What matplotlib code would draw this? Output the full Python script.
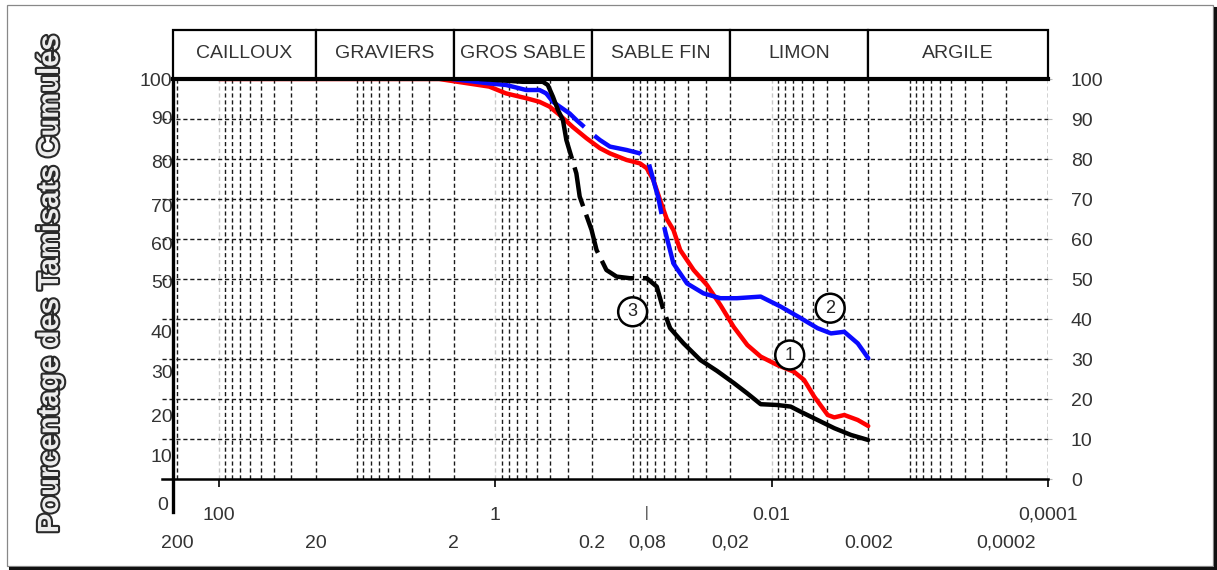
import numpy as np
import matplotlib.pyplot as plt
import matplotlib.patheffects as pe
import matplotlib.transforms as mtransforms
from matplotlib.patches import Rectangle
from matplotlib.lines import Line2D

plt.rcParams['font.family'] = ['Liberation Sans', 'DejaVu Sans']

# grain diameter (mm) and cumulative passing (%) for the three samples
d1 = [100, 2.55, 1.106, 0.836, 0.598, 0.479, 0.405, 0.342, 0.275, 0.219,
      0.175, 0.148, 0.112, 0.0897, 0.0802, 0.0718, 0.0642, 0.0574, 0.0514, 0.0459,
      0.0367, 0.0294, 0.0235, 0.0188, 0.0150, 0.0120, 0.0091, 0.00689, 0.00582, 0.00492,
      0.00393, 0.00352, 0.00298, 0.00238, 0.002]
p1 = [100, 100, 98.1, 96.4, 95.2, 94.3, 93.1, 91, 88, 85.2,
      82.7, 81.4, 79.75, 78.9, 77.7, 74.75, 69.75, 65, 62.25, 57.25,
      52.25, 48.5, 43.5, 38, 33.5, 30.6, 28.5, 26.8, 24.75, 20.6,
      16, 15.4, 16, 14.75, 13.25]

d2 = [2.06, 1.106, 0.836, 0.598, 0.479, 0.428, 0.383, 0.342, 0.290, 0.259,
      0.201, 0.175, 0.148, 0.112, 0.0897, 0.078, 0.0718, 0.066, 0.0624, 0.059,
      0.0514, 0.041, 0.0311, 0.0235, 0.0178, 0.0120, 0.0086, 0.00615, 0.00465, 0.00372,
      0.00298, 0.00238, 0.002]
p2 = [100, 98.9, 98.5, 97.25, 97.25, 96.4, 94.3, 93.1, 91.4, 89.75,
      86.4, 84.75, 83.1, 82.25, 81.4, 79.3, 74.75, 70.2, 66, 62,
      53.9, 48.9, 46.4, 45.2, 45.2, 45.6, 43.1, 40.2, 37.7, 36.4,
      36.8, 33.9, 30.2]

d3 = [1.3, 0.988, 0.633, 0.453, 0.417, 0.383, 0.352, 0.324, 0.306, 0.259,
      0.245, 0.201, 0.185, 0.157, 0.1325, 0.106, 0.0802, 0.0678, 0.0607, 0.0543,
      0.0434, 0.0328, 0.0248, 0.0188, 0.0150, 0.0120, 0.0091, 0.00728, 0.00615, 0.00465,
      0.00352, 0.00266, 0.002]
p3 = [100, 99.75, 99.3, 99.3, 98.5, 95.6, 92.25, 89.75, 84.75, 76.4,
      70.6, 62.25, 57.25, 52.25, 50.6, 50.2, 50.2, 48.1, 42.25, 37.7,
      33.9, 29.75, 27, 24, 21.4, 18.7, 18.5, 18.1, 16.8, 14.75,
      12.7, 11, 9.75]

# soil classes and their limits (mm)
classes = ['CAILLOUX', 'GRAVIERS', 'GROS SABLE', 'SABLE FIN', 'LIMON', 'ARGILE']
limits = [215, 20, 2, 0.2, 0.02, 0.002, 0.0001]

top_ticks = [100, 1, 0.01, 0.0001]
top_tick_labels = ['100', '1', '0.01', '0,0001']
low_ticks = [200, 20, 2, 0.2, 0.08, 0.02, 0.002, 0.0002]
low_tick_labels = ['200', '20', '2', '0.2', '0,08', '0,02', '0.002', '0,0002']

pct_ticks = list(range(0, 101, 10))
left_label_y = [-6.5, 5.5, 15.5, 26.5, 36.5, 48.75, 58.25, 67.75, 79, 89.75, 99.25]

W, H = 1217, 570
fig = plt.figure(figsize=(W / 100, H / 100), dpi=100)
ax = fig.add_axes([173 / W, 1 - 479 / H, 875 / W, 400 / H])
ax.set_xscale('log')
ax.set_xlim(215, 0.0001)
ax.set_ylim(0, 100)
for s in ax.spines.values():
    s.set_visible(False)
ax.xaxis.set_minor_locator(plt.NullLocator())
ax.yaxis.set_minor_locator(plt.NullLocator())

# grid
grid_dash = (0, (3, 2))
for k in range(-4, 3):
    for n in range(1, 10):
        v = n * 10.0 ** k
        if v < 0.0001 * 0.999 or v > 215:
            continue
        light = v in (100, 1, 0.01)
        ax.vlines(v, 0, 100, colors='#c8c8c8' if light else '#1a1a1a',
                  linestyles=grid_dash, lw=1.0, zorder=1)
for y in pct_ticks[1:-1]:
    ax.axhline(y, xmin=-0.0125, xmax=1.0, color='#1a1a1a', ls=grid_dash,
               lw=1.0, clip_on=False, zorder=1)

# axes lines
ax.axhline(0, xmin=-0.0125, xmax=1.0, color='black', lw=1.8, clip_on=False, zorder=4)
ax.add_line(Line2D([0, 0], [-0.083, 1.0], transform=ax.transAxes, color='black',
                   lw=2.4, clip_on=False, zorder=4))
ax.axhline(100, color='black', lw=3, clip_on=False, zorder=6)


def draw_curve(d, p, color, dashed=None, dashes=(10, 2)):
    d = np.asarray(d)
    p = np.asarray(p)
    kw = dict(color=color, lw=3.2, solid_capstyle='round', solid_joinstyle='round', zorder=3)
    if dashed is None:
        ax.plot(d, p, **kw)
        return
    lo, hi = dashed
    left = d >= hi
    mid = (d <= hi) & (d >= lo)
    right = d <= lo
    ax.plot(d[left], p[left], **kw)
    ax.plot(d[mid], p[mid], dashes=dashes, dash_capstyle='butt', **kw)
    ax.plot(d[right], p[right], **kw)


draw_curve(d1, p1, '#ff0000')
draw_curve(d2, p2, '#0a0aff', (0.0514, 0.428), (11.5, 3))
draw_curve(d3, p3, 'black', (0.0543, 0.324), (9, 2))

# curve numbers
for txt, x, y in [('1', 0.0074, 31), ('2', 0.00377, 42.7), ('3', 0.1014, 41.8)]:
    ax.text(x, y, txt, ha='center', va='center', fontsize=13, color='#222222', zorder=7,
            bbox=dict(boxstyle='circle,pad=0.33', fc='white', ec='black', lw=1.8))

# class boxes above the plot
for name, a, b in zip(classes, limits[:-1], limits[1:]):
    ax.add_patch(Rectangle((b, 100), a - b, 12.25, fc='white', ec='black', lw=1.6,
                           clip_on=False, zorder=5))
    ax.text(np.sqrt(a * b), 106.3, name, ha='center', va='center', fontsize=14,
            color='#333333', zorder=6, clip_on=False)

# x axis: ticks and two rows of labels
ax.set_xticks(top_ticks)
ax.set_xticklabels([])
ax.tick_params(axis='x', direction='out', length=5.5, width=1.2, color='black')
for v, lab in zip(top_ticks, top_tick_labels):
    ax.text(v, -9, lab, ha='center', va='center', fontsize=14, color='#333333', clip_on=False)
ax.text(0.08, -8.5, '|', ha='center', va='center', fontsize=10, color='#333333', clip_on=False)
for v, lab in zip(low_ticks, low_tick_labels):
    ax.text(v, -16, lab, ha='center', va='center', fontsize=14, color='#333333', clip_on=False)

# percentage scales, right and left
ax.set_yticks(pct_ticks)
ax.yaxis.tick_right()
ax.tick_params(axis='y', length=3, width=0.8, color='#bbbbbb', pad=13.5,
               labelsize=14, labelcolor='#333333')
lt = mtransforms.blended_transform_factory(ax.transAxes, ax.transData)
for v, y in zip(pct_ticks, left_label_y):
    ax.text(-0.0005 if v else -0.006, y, str(v), transform=lt, ha='right', va='center',
            fontsize=14, color='#333333', clip_on=False, zorder=3)

fig.text(50 / W, 1 - 284 / H, 'Pourcentage des Tamisats Cumulés', rotation=90,
         ha='center', va='center', fontsize=21, fontweight='bold', color='#ececec',
         path_effects=[pe.withStroke(linewidth=3, foreground='#2a2a2a')])

# page frame with a shadow
fig.add_artist(Rectangle((7 / W, 1 - 566 / H), 1206 / W, 561 / H, transform=fig.transFigure,
                         fill=False, ec='#888888', lw=0.9))
fig.add_artist(Line2D([10 / W, 1], [1 - 568 / H] * 2, transform=fig.transFigure,
                      color='#111111', lw=2.2))
fig.add_artist(Line2D([1 - 2 / W] * 2, [0, 1 - 8 / H], transform=fig.transFigure,
                      color='#111111', lw=2.2))

fig.savefig('out.png', dpi=100)
